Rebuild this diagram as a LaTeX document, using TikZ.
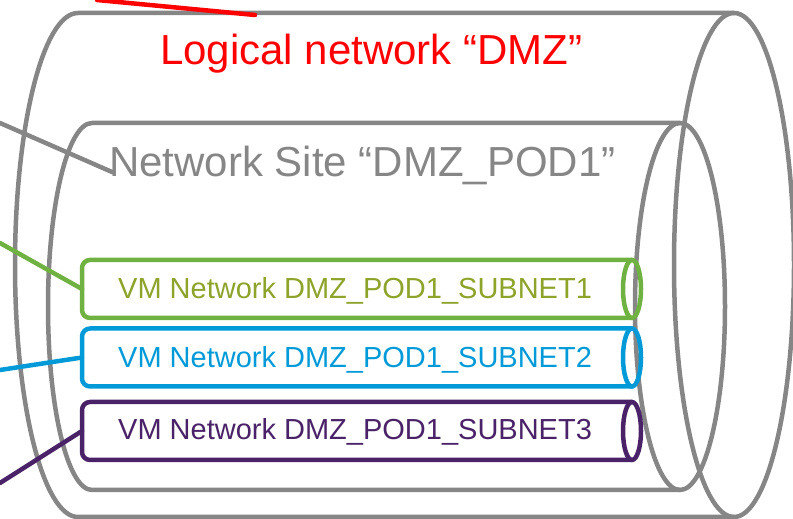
\documentclass[tikz,border=0pt]{standalone}
\usepackage{fontspec}
\setmainfont{Liberation Sans}
\usetikzlibrary{calc}
\definecolor{dmzred}{RGB}{255,0,0}
\definecolor{sitegray}{RGB}{134,134,134}
\definecolor{netgreen}{RGB}{112,178,66}
\definecolor{netolive}{RGB}{141,163,42}
\definecolor{netblue}{RGB}{0,154,217}
\definecolor{netpurple}{RGB}{74,34,104}

\begin{document}
\begin{tikzpicture}[x=1pt, y=1pt, line cap=round, line join=round,
  tube/.style={line width=4.5pt},
  biglbl/.style={anchor=base west, inner sep=0pt, font=\fontsize{42}{42}\selectfont},
  netlbl/.style={anchor=base west, inner sep=0pt, font=\fontsize{29}{29}\selectfont}]
\useasboundingbox (0,0) rectangle (793,519);
% logical network
\draw[sitegray, tube] (734,506) -- (78,506) arc[start angle=90, end angle=270, x radius=63, y radius=252] -- (734,2);
\draw[sitegray, tube] (734,254) ellipse [x radius=60, y radius=252];
% network site
\draw[sitegray, tube] (680,396) -- (92,396) arc[start angle=90, end angle=270, x radius=44, y radius=183.5] -- (680,29);
\draw[sitegray, tube] (680,212.5) ellipse [x radius=45, y radius=183.5];
% vm networks
\coordinate (G) at (82,230);
\coordinate (B) at (82,161.5);
\coordinate (P) at (82,88);
\draw[netgreen, tube, rounded corners=8] (632,259) -- (82,259) -- (82,201) -- (632,201);
\draw[netgreen, tube] (632,230) ellipse [x radius=9, y radius=29];
\draw[netblue, tube, rounded corners=8] (632,190.5) -- (82,190.5) -- (82,132.5) -- (632,132.5);
\draw[netblue, tube] (632,161.5) ellipse [x radius=9, y radius=29];
\draw[netpurple, tube, rounded corners=8] (632,117) -- (82,117) -- (82,59) -- (632,59);
\draw[netpurple, tube] (632,88) ellipse [x radius=9, y radius=29];
% labels
\node[biglbl, dmzred] (dmz) at (160,454) {Logical network “DMZ”};
\node[biglbl, sitegray] (site) at (109,342) {Network Site “DMZ\_POD1”};
\node[netlbl, netolive] (sub1) at (118,220) {VM Network DMZ\_POD1\_SUBNET1};
\node[netlbl, netblue] (sub2) at (118,151) {VM Network DMZ\_POD1\_SUBNET2};
\node[netlbl, netpurple] (sub3) at (118,79) {VM Network DMZ\_POD1\_SUBNET3};
% lines coming in from the left
\coordinate (redin) at (97,519);
\coordinate (redend) at (255,504);
\coordinate (grayin) at (0,396);
\coordinate (greenin) at (0,276);
\coordinate (bluein) at (0,149);
\coordinate (purplein) at (0,36);
\draw[dmzred, tube] (redin) -- (redend);
\draw[sitegray, tube] (grayin) -- ($(site.base west)+(3,5)$);
\draw[netgreen, tube] (greenin) -- (G);
\draw[netblue, tube] (bluein) -- (B);
\draw[netpurple, tube] (purplein) -- (P);
\end{tikzpicture}
\end{document}
